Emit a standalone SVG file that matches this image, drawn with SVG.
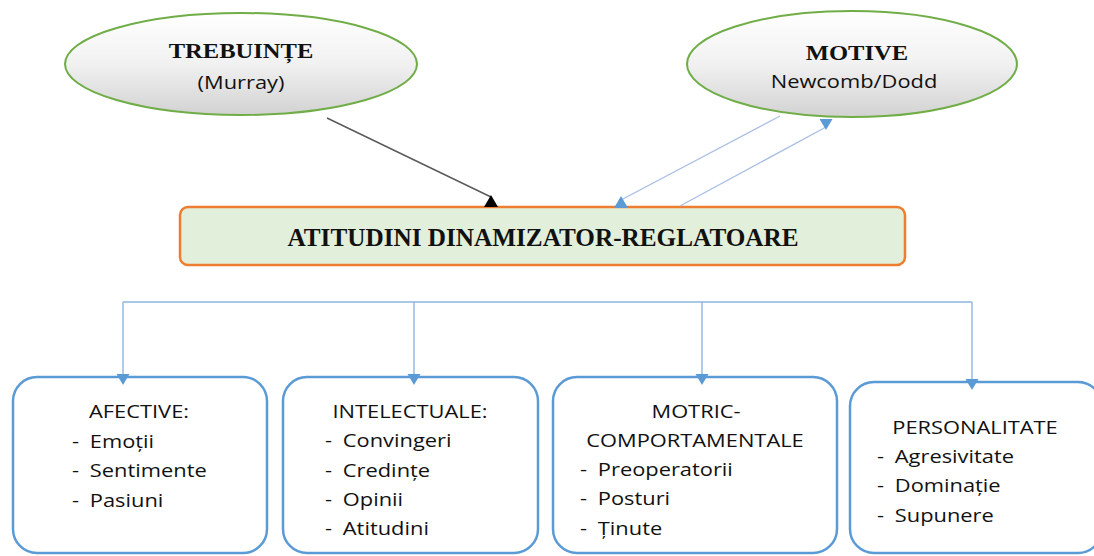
<svg xmlns="http://www.w3.org/2000/svg" xmlns:xlink="http://www.w3.org/1999/xlink" width="1094" height="556" viewBox="0 0 1094 556">
<style>
.ell{stroke:#70ad47;stroke-width:2;fill:url(#eg)}
.box{fill:#fff;stroke:#5b9bd5;stroke-width:2.5}
.main{fill:#e2efda;stroke:#ed7d31;stroke-width:2.5}
.t{font-family:"Open Sans","Liberation Sans",sans-serif;font-size:19px;fill:#111}
.c{text-anchor:middle}
.b{font-family:"Liberation Serif","DejaVu Serif",serif;font-weight:bold;fill:#111}
.bus{stroke:#8fb4de;stroke-width:1.4;fill:none}
.lb{stroke:#aabfe3;stroke-width:1.4;fill:none}
.lk{stroke:#595959;stroke-width:1.4;fill:none}
.hk{fill:#000}
.hb{fill:#5b9bd5}
</style>
<defs>
<linearGradient id="eg" x1="0" y1="0" x2="0" y2="1">
<stop offset="0" stop-color="#ffffff"/>
<stop offset="0.5" stop-color="#f1f1f1"/>
<stop offset="1" stop-color="#d2d2d2"/>
</linearGradient>
<path id="up" d="M0,0 L7,12 L-7,12Z"/>
<path id="dn" d="M0,0 L-6.5,-11 L6.5,-11Z"/>
</defs>
<rect width="1094" height="556" fill="#fff"/>
<g id="trebuinte">
<ellipse class="ell" cx="241" cy="64" rx="176" ry="51"/>
<text class="b c" font-size="21" transform="translate(241,58) scale(1.17,1)">TREBUINȚE</text>
<text class="t c" transform="translate(241,89) scale(1.15,1)">(Murray)</text>
</g>
<g id="motive">
<ellipse class="ell" cx="852" cy="64" rx="165" ry="53"/>
<text class="b c" font-size="21" transform="translate(857,60) scale(1.17,1)">MOTIVE</text>
<text class="t c" transform="translate(854,88) scale(1.15,1)">Newcomb/Dodd</text>
</g>
<g id="atitudini">
<rect class="main" x="180" y="207" width="725" height="58" rx="8"/>
<text class="b c" font-size="26" transform="translate(543,246) scale(0.97,1)">ATITUDINI DINAMIZATOR-REGLATOARE</text>
</g>
<g id="afective">
<rect class="box" x="13" y="377" width="254" height="176" rx="24"/>
<text class="t c" transform="translate(139,418) scale(1.15,1)">AFECTIVE:</text>
<text class="t" transform="translate(72,448) scale(1.15,1)">-<tspan x="15.5">Emoții</tspan></text>
<text class="t" transform="translate(72,477) scale(1.15,1)">-<tspan x="15.5">Sentimente</tspan></text>
<text class="t" transform="translate(72,507) scale(1.15,1)">-<tspan x="15.5">Pasiuni</tspan></text>
</g>
<g id="intelectuale">
<rect class="box" x="283" y="377" width="255" height="176" rx="24"/>
<text class="t c" transform="translate(410,418) scale(1.15,1)">INTELECTUALE:</text>
<text class="t" transform="translate(325,447) scale(1.15,1)">-<tspan x="15.5">Convingeri</tspan></text>
<text class="t" transform="translate(325,477) scale(1.15,1)">-<tspan x="15.5">Credințe</tspan></text>
<text class="t" transform="translate(325,506) scale(1.15,1)">-<tspan x="15.5">Opinii</tspan></text>
<text class="t" transform="translate(325,535) scale(1.15,1)">-<tspan x="15.5">Atitudini</tspan></text>
</g>
<g id="motric">
<rect class="box" x="553" y="377" width="284" height="176" rx="24"/>
<text class="t c" transform="translate(696,418) scale(1.15,1)">MOTRIC-</text>
<text class="t c" transform="translate(695,447) scale(1.15,1)">COMPORTAMENTALE</text>
<text class="t" transform="translate(580,476) scale(1.15,1)">-<tspan x="15.5">Preoperatorii</tspan></text>
<text class="t" transform="translate(580,505) scale(1.15,1)">-<tspan x="15.5">Posturi</tspan></text>
<text class="t" transform="translate(580,535) scale(1.15,1)">-<tspan x="15.5">Ținute</tspan></text>
</g>
<g id="personalitate">
<rect class="box" x="850" y="382" width="252" height="171" rx="24"/>
<text class="t c" transform="translate(975,434) scale(1.15,1)">PERSONALITATE</text>
<text class="t" transform="translate(877,463) scale(1.15,1)">-<tspan x="15.5">Agresivitate</tspan></text>
<text class="t" transform="translate(877,492) scale(1.15,1)">-<tspan x="15.5">Dominație</tspan></text>
<text class="t" transform="translate(877,522) scale(1.15,1)">-<tspan x="15.5">Supunere</tspan></text>
</g>
<g id="connectors">
<line class="lk" x1="327" y1="118" x2="491" y2="197"/>
<use href="#up" xlink:href="#up" class="hk" x="491" y="195"/>
<line class="lb" x1="780" y1="116" x2="621" y2="200"/>
<use href="#up" xlink:href="#up" class="hb" x="621" y="196"/>
<line class="lb" x1="680" y1="206" x2="826" y2="127"/>
<use href="#dn" xlink:href="#dn" class="hb" x="826" y="130"/>
<line class="bus" x1="123" y1="302" x2="972" y2="302"/>
<line class="bus" x1="123" y1="302" x2="123" y2="380"/>
<line class="bus" x1="414" y1="302" x2="414" y2="380"/>
<line class="bus" x1="702" y1="302" x2="702" y2="380"/>
<line class="bus" x1="972" y1="302" x2="972" y2="385"/>
<use href="#dn" xlink:href="#dn" class="hb" x="123" y="385"/>
<use href="#dn" xlink:href="#dn" class="hb" x="414" y="385"/>
<use href="#dn" xlink:href="#dn" class="hb" x="702" y="385"/>
<use href="#dn" xlink:href="#dn" class="hb" x="972" y="390"/>
</g>
</svg>
